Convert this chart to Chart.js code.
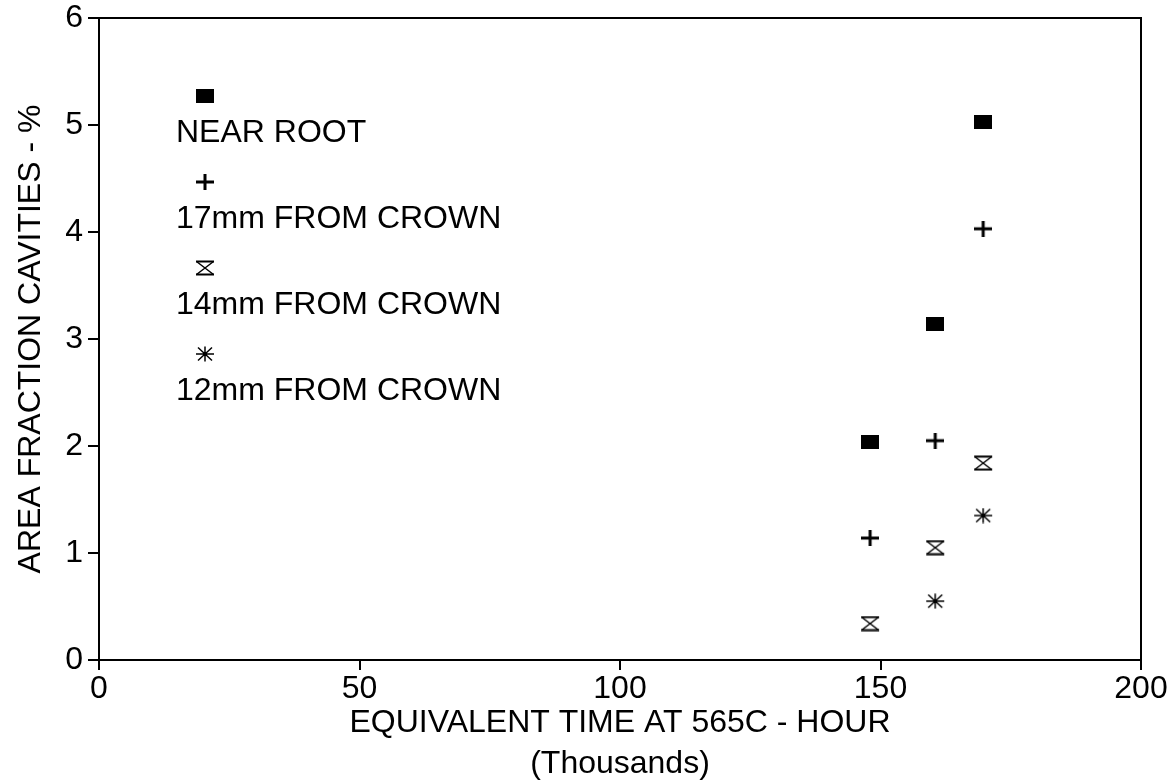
<!DOCTYPE html>
<html>
<head>
<meta charset="utf-8">
<script src="https://cdn.jsdelivr.net/npm/chart.js@4.4.1/dist/chart.umd.min.js"></script>
<style>
    html, body { margin: 0; padding: 0; background: #fff; }
    #wrap { width: 1175px; height: 782px; position: relative; }
</style>
</head>
<body>
<div id="wrap"><canvas id="cavityChart" width="1175" height="782"></canvas></div>
<script>
// equivalent time (thousands of hours) for each sample
let timeK = [148, 160.5, 169.7];

// area fraction cavities (%) at each location
let nearRoot = [2.04, 3.14, 5.03];
let from17mm = [1.14, 2.05, 4.03];
let from14mm = [0.34, 1.05, 1.84];
let from12mm = [null, 0.55, 1.35];

let seriesNames = ['NEAR ROOT', '17mm FROM CROWN', '14mm FROM CROWN', '12mm FROM CROWN'];

let xTicks = [0, 50, 100, 150, 200];
let yTicks = [0, 1, 2, 3, 4, 5, 6];

const FONT = "'Liberation Sans', Arial, sans-serif";

// little canvases used as point styles
function makeMarker(w, h, draw) {
    let c = document.createElement('canvas');
    c.width = w;
    c.height = h;
    let ctx = c.getContext('2d');
    ctx.strokeStyle = '#000';
    ctx.fillStyle = '#000';
    draw(ctx, w, h);
    return c;
}

let squareMark = makeMarker(18, 14, (ctx, w, h) => {
    ctx.fillRect(0, 0, w, h);
});

let plusMark = makeMarker(18, 16, (ctx, w, h) => {
    ctx.fillRect(0, 6.5, w, 3);
    ctx.fillRect(7.5, 0, 3, h);
});

let hourglassMark = makeMarker(20, 16, (ctx, w, h) => {
    ctx.lineWidth = 2;
    ctx.beginPath();
    ctx.moveTo(1, 1.5); ctx.lineTo(w - 1, 1.5);
    ctx.moveTo(1, h - 1.5); ctx.lineTo(w - 1, h - 1.5);
    ctx.stroke();
    ctx.lineWidth = 1.5;
    ctx.beginPath();
    ctx.moveTo(1.5, 1.5); ctx.lineTo(w - 1.5, h - 1.5);
    ctx.moveTo(w - 1.5, 1.5); ctx.lineTo(1.5, h - 1.5);
    ctx.stroke();
});

let starMark = makeMarker(20, 16, (ctx, w, h) => {
    ctx.lineWidth = 1.5;
    ctx.beginPath();
    ctx.moveTo(1, h / 2); ctx.lineTo(w - 1, h / 2);
    ctx.moveTo(w / 2, 0.5); ctx.lineTo(w / 2, h - 0.5);
    ctx.moveTo(3, 1.5); ctx.lineTo(w - 3, h - 1.5);
    ctx.moveTo(w - 3, 1.5); ctx.lineTo(3, h - 1.5);
    ctx.stroke();
    ctx.fillRect(w / 2 - 2, h / 2 - 2, 4, 4);
});

let markers = [squareMark, plusMark, hourglassMark, starMark];

function toPoints(values) {
    return values.map((v, i) => ({ x: timeK[i], y: v }));
}

// frame around the plot area plus the legend in the upper left
const framePlugin = {
    id: 'frame',
    afterDraw(chart) {
        let ctx = chart.ctx;
        let a = chart.chartArea;
        ctx.save();
        ctx.strokeStyle = '#000';
        ctx.lineWidth = 2;
        ctx.beginPath();
        ctx.moveTo(a.left, a.top);
        ctx.lineTo(a.right, a.top);
        ctx.lineTo(a.right, a.bottom);
        ctx.stroke();

        // legend: marker, then the name under it
        ctx.font = '32px ' + FONT;
        ctx.fillStyle = '#000';
        ctx.textBaseline = 'middle';
        ctx.textAlign = 'left';
        for (let i = 0; i < seriesNames.length; i++) {
            let my = a.top + 78 + i * 86;
            let m = markers[i];
            ctx.drawImage(m, a.left + 106 - m.width / 2, my - m.height / 2);
            ctx.fillText(seriesNames[i], a.left + 77, my + 37);
        }
        ctx.restore();
    }
};

let datasets = [nearRoot, from17mm, from14mm, from12mm].map((vals, i) => ({
    label: seriesNames[i],
    data: toPoints(vals),
    pointStyle: markers[i],
    pointRadius: 9,
    showLine: false
}));

let tickFont = { family: FONT, size: 32 };

new Chart(document.getElementById('cavityChart'), {
    type: 'scatter',
    data: { datasets: datasets },
    options: {
        responsive: false,
        animation: false,
        layout: { padding: { top: 18, right: 34, left: 12, bottom: 0 } },
        plugins: {
            legend: { display: false },
            tooltip: { enabled: false }
        },
        scales: {
            x: {
                type: 'linear',
                min: 0,
                max: 200,
                afterBuildTicks: (scale) => { scale.ticks = xTicks.map(v => ({ value: v })); },
                afterFit: (scale) => {
                    scale.height = 122;
                    scale.paddingLeft = 0;
                    scale.paddingRight = 0;
                },
                border: { color: '#000', width: 2 },
                grid: { drawOnChartArea: false, drawTicks: true, tickLength: 10, color: '#000', lineWidth: 2 },
                ticks: { color: '#000', font: tickFont, padding: 0, maxRotation: 0 },
                title: {
                    display: true,
                    text: ['EQUIVALENT TIME AT 565C - HOUR', '(Thousands)'],
                    color: '#000',
                    font: { family: FONT, size: 32, lineHeight: 1.28 },
                    padding: { top: 0, bottom: -3 }
                }
            },
            y: {
                type: 'linear',
                min: 0,
                max: 6,
                afterBuildTicks: (scale) => { scale.ticks = yTicks.map(v => ({ value: v })); },
                afterFit: (scale) => {
                    scale.width = 87;
                    scale.paddingTop = 0;
                    scale.paddingBottom = 0;
                },
                border: { color: '#000', width: 2 },
                grid: { drawOnChartArea: false, drawTicks: true, tickLength: 11, color: '#000', lineWidth: 2 },
                ticks: { color: '#000', font: tickFont, padding: 5 },
                title: {
                    display: true,
                    text: 'AREA FRACTION CAVITIES - %',
                    color: '#000',
                    font: { family: FONT, size: 32 },
                    padding: { top: 0, bottom: 0 }
                }
            }
        }
    },
    plugins: [framePlugin]
});
</script>
</body>
</html>
